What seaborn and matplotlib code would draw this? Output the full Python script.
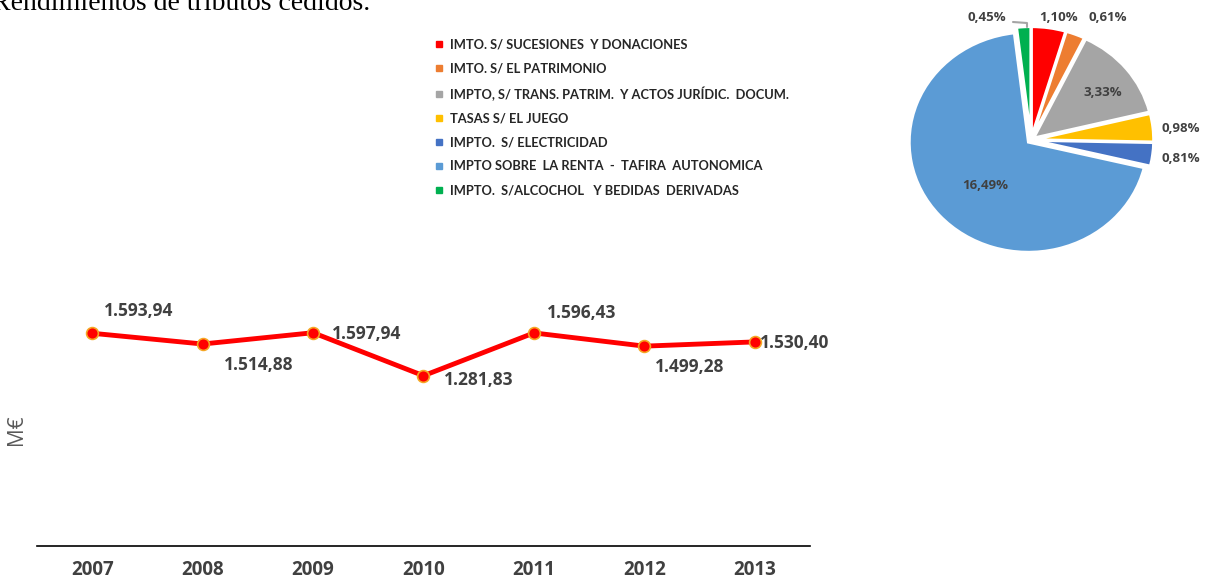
import matplotlib
matplotlib.use("Agg")
import matplotlib.pyplot as plt
from matplotlib.lines import Line2D
import seaborn as sns
import pandas as pd

# datos
years = ["2007", "2008", "2009", "2010", "2011", "2012", "2013"]
rendimientos = [1593.94, 1514.88, 1597.94, 1281.83, 1596.43, 1499.28, 1530.40]
rend_labels = ["1.593,94", "1.514,88", "1.597,94", "1.281,83", "1.596,43", "1.499,28", "1.530,40"]

tributos = ["IMTO. S/ SUCESIONES  Y DONACIONES",
            "IMTO. S/ EL PATRIMONIO",
            "IMPTO, S/ TRANS. PATRIM.  Y ACTOS JURÍDIC.  DOCUM.",
            "TASAS S/ EL JUEGO",
            "IMPTO.  S/ ELECTRICIDAD",
            "IMPTO SOBRE  LA RENTA  -  TAFIRA  AUTONOMICA",
            "IMPTO.  S/ALCOCHOL   Y BEDIDAS  DERIVADAS"]
porcentajes = [1.10, 0.61, 3.33, 0.98, 0.81, 16.49, 0.45]
pct_labels = ["1,10%", "0,61%", "3,33%", "0,98%", "0,81%", "16,49%", "0,45%"]
colores = ["#FF0000", "#ED7D31", "#A5A5A5", "#FFC000", "#4472C4", "#5B9BD5", "#00B050"]

sns.set_theme(style="white")
plt.rcParams['font.family'] = ['Open Sans', 'DejaVu Sans']
txt = "#404040"

W, H = 1211, 581
fig = plt.figure(figsize=(W / 100, H / 100), dpi=100)

# titulo cortado arriba
fig.text(-8 / W, 1 - 10 / H, "Rendimientos de tributos cedidos.", family="Liberation Serif",
         fontsize=20, color="black", va="baseline", ha="left")

# grafico de lineas
ax = fig.add_axes([37 / W, 1 - 546 / H, (810 - 37) / W, 256 / H])
df = pd.DataFrame({"year": years, "valor": rendimientos})
sns.lineplot(data=df, x="year", y="valor", ax=ax, color="#FF0000", linewidth=3.5,
             marker="o", markersize=8.5, markerfacecolor="#FF0000",
             markeredgecolor="#F5A623", markeredgewidth=1.2)
ax.set_xlim(-0.5, 6.5)
ax.set_ylim(30, 1912)
ax.set_yticks([])
ax.set_xlabel("")
ax.set_ylabel("")
for s in ["top", "right", "left"]:
    ax.spines[s].set_visible(False)
ax.spines["bottom"].set_color("black")
ax.spines["bottom"].set_linewidth(1.2)
ax.tick_params(axis="x", length=0, pad=10, labelsize=13.5, labelcolor=txt)
for t in ax.get_xticklabels():
    t.set_fontweight("bold")

# desplazamiento de etiquetas en pixeles
offs = [(46, 22), (56, -21), (54, -1), (55, -4), (48, 20), (45, -21), (40, -1)]
for i, (v, lab) in enumerate(zip(rendimientos, rend_labels)):
    ax.annotate(lab, (i, v), xytext=offs[i], textcoords="offset pixels",
                ha="center", va="center", fontsize=12.5, fontweight="bold", color=txt,
                annotation_clip=False)

fig.text(17 / W, 1 - 430 / H, "M€", rotation=90, fontsize=15, color="#595959",
         ha="center", va="center")

# leyenda
handles = [Line2D([], [], marker="s", linestyle="none", markersize=4.5,
                  markerfacecolor=c, markeredgecolor=c) for c in colores]
leg = fig.legend(handles, tributos, loc="upper left", bbox_to_anchor=(424 / W, 1 - 27 / H),
                 frameon=False, handlelength=0.6, handletextpad=0.5, labelspacing=0.92,
                 prop={"family": "Lato", "weight": "bold", "size": 9.3})
for t in leg.get_texts():
    t.set_color("#262626")

# grafico circular (algo mas ancho que alto, como en el original)
Rx, Ry = 119, 110
half = 170
cx, cy = 1031, 140
axp = fig.add_axes([(cx - half) / W, 1 - (cy + half) / H, 2 * half / W, 2 * half / H])
axp.pie(porcentajes, colors=colores, startangle=90, counterclock=False,
        explode=[0.03] * len(porcentajes), radius=1,
        wedgeprops={"edgecolor": "white", "linewidth": 2})
axp.set_xlim(-half / Rx, half / Rx)
axp.set_ylim(-half / Ry, half / Ry)
axp.set_aspect("auto")
axp.axis("off")

# posiciones de etiquetas en pixeles respecto al centro
pie_px = [(28, 123), (77, 123), (72, 48), (150, 12), (150, -18), (-46, -45), (-44, 123)]
for lab, (px, py) in zip(pct_labels, pie_px):
    axp.text(px / Rx, py / Ry, lab, ha="center", va="center", fontsize=9.5,
             fontweight="bold", color=txt)
# linea guia de 0,45%
axp.plot([-18 / Rx, -4 / Rx, -4 / Rx], [118 / Ry, 117 / Ry, 113 / Ry], color="#A5A5A5", linewidth=1.5)

fig.savefig("out.png", dpi=100)
